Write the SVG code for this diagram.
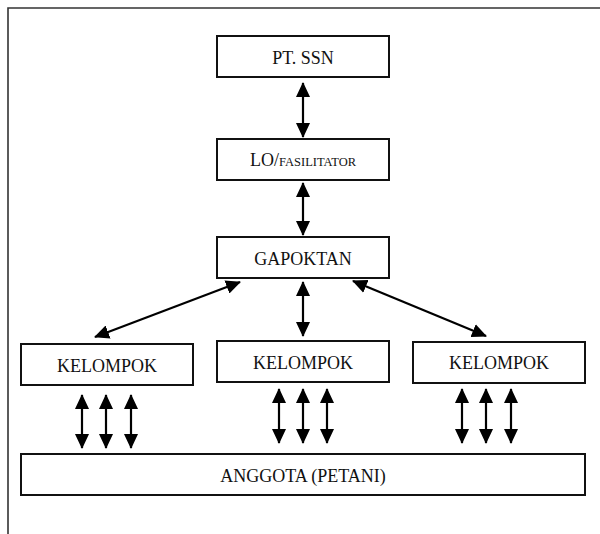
<svg xmlns="http://www.w3.org/2000/svg" width="600" height="534" viewBox="0 0 600 534">
  <style>
    .box { fill: #ffffff; stroke: #111111; stroke-width: 2; }
    .lbl { font-family: "Liberation Serif", "Times New Roman", serif; font-size: 18px; fill: #111111; text-anchor: middle; }
    .sc { font-size: 12.5px; }
    .conn { stroke: #000000; stroke-width: 2.2; fill: none; marker-start: url(#ah); marker-end: url(#ah); }
    .frame { stroke: #333333; stroke-width: 1.6; fill: none; }
  </style>
  <defs>
    <marker id="ah" markerUnits="userSpaceOnUse" markerWidth="15" markerHeight="14" refX="14" refY="7" orient="auto-start-reverse" viewBox="0 0 15 14">
      <path d="M0,0 L15,7 L0,14 z" fill="#000000"/>
    </marker>
  </defs>
  <rect x="0" y="0" width="600" height="534" fill="#ffffff"/>
  <path class="frame" d="M8,534 L8,8 L600,8"/>

  <g id="pt-ssn">
    <rect class="box" x="217" y="36" width="172" height="41"/>
    <text class="lbl" x="303" y="64">PT. SSN</text>
  </g>
  <g id="lo-fasilitator">
    <rect class="box" x="217" y="139" width="172" height="41"/>
    <text class="lbl" x="303" y="166">LO/<tspan class="sc">FASILITATOR</tspan></text>
  </g>
  <g id="gapoktan">
    <rect class="box" x="217" y="237" width="172" height="41"/>
    <text class="lbl" x="303" y="265">GAPOKTAN</text>
  </g>
  <g id="kelompok-1">
    <rect class="box" x="21" y="344" width="172" height="41"/>
    <text class="lbl" x="107" y="372">KELOMPOK</text>
  </g>
  <g id="kelompok-2">
    <rect class="box" x="217" y="341" width="172" height="41"/>
    <text class="lbl" x="303" y="369">KELOMPOK</text>
  </g>
  <g id="kelompok-3">
    <rect class="box" x="413" y="342" width="172" height="41"/>
    <text class="lbl" x="499" y="369">KELOMPOK</text>
  </g>
  <g id="anggota">
    <rect class="box" x="21" y="454" width="564" height="41"/>
    <text class="lbl" x="303" y="482">ANGGOTA (PETANI)</text>
  </g>

  <g id="connectors">
    <line class="conn" x1="303" y1="83" x2="303" y2="137"/>
    <line class="conn" x1="303" y1="183" x2="303" y2="235"/>
    <line class="conn" x1="240" y1="282" x2="95" y2="337"/>
    <line class="conn" x1="303" y1="282" x2="303" y2="336"/>
    <line class="conn" x1="353" y1="281" x2="486" y2="336"/>
    <line class="conn" x1="82" y1="395" x2="82" y2="448"/>
    <line class="conn" x1="106" y1="395" x2="106" y2="448"/>
    <line class="conn" x1="131" y1="395" x2="131" y2="448"/>
    <line class="conn" x1="279" y1="389" x2="279" y2="443"/>
    <line class="conn" x1="303" y1="389" x2="303" y2="443"/>
    <line class="conn" x1="327" y1="389" x2="327" y2="443"/>
    <line class="conn" x1="462" y1="389" x2="462" y2="443"/>
    <line class="conn" x1="486" y1="389" x2="486" y2="443"/>
    <line class="conn" x1="511" y1="389" x2="511" y2="443"/>
  </g>
</svg>
